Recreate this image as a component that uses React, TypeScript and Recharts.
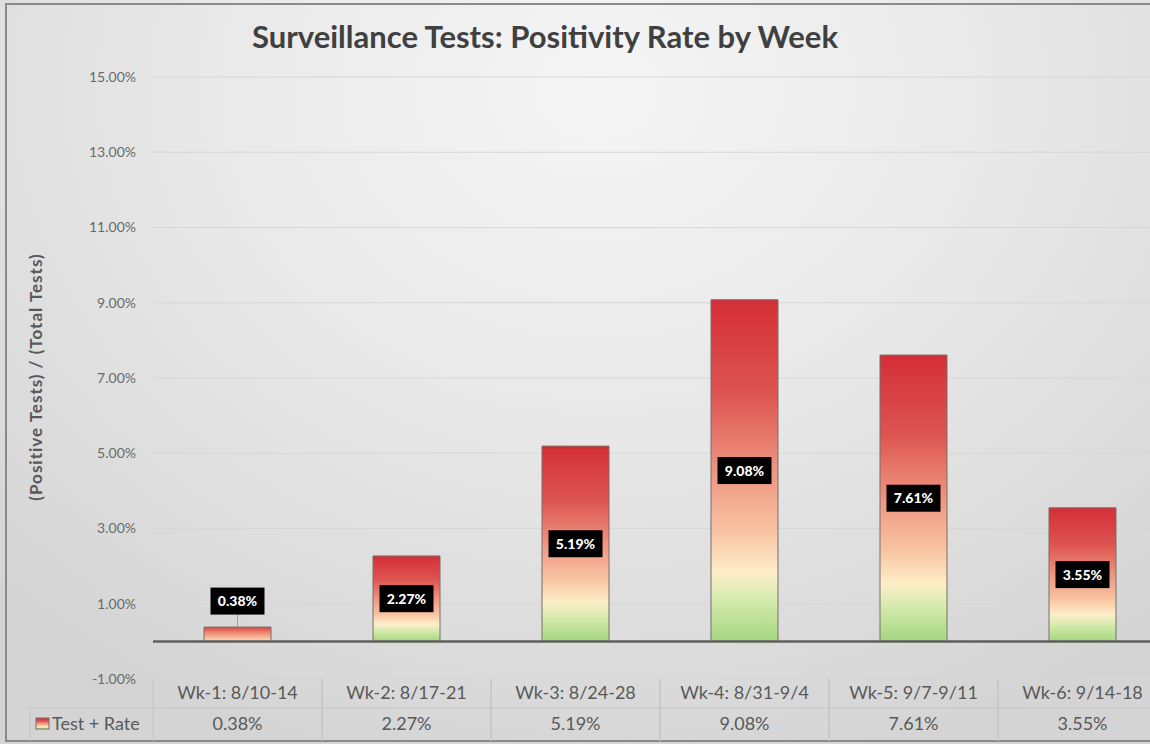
import React from 'react'
import { BarChart, Bar, XAxis, YAxis, CartesianGrid, ReferenceLine, LabelList, Cell } from 'recharts'

const weeks = ['Wk-1: 8/10-14', 'Wk-2: 8/17-21', 'Wk-3: 8/24-28', 'Wk-4: 8/31-9/4', 'Wk-5: 9/7-9/11', 'Wk-6: 9/14-18']
const rates = [0.38, 2.27, 5.19, 9.08, 7.61, 3.55]
const yTicks = [-1, 1, 3, 5, 7, 9, 11, 13, 15]
const seriesName = 'Test + Rate'

const data = weeks.map((week, i) => ({ week, rate: rates[i] }))

const pct = (v: number) => `${Number(v).toFixed(2)}%`
const FONT = 'Lato, "Open Sans", sans-serif'
const TABLE_LINE = '#c4c4c4'

// table under the plot, drawn as the x axis ticks
const TableTick = (props: any) => {
  const { x, y, payload, index } = props
  const half = payload.offset || 84.5
  const left = x - half
  const right = x + half
  const rowH = 29
  return (
    <g>
      <line x1={left} y1={y} x2={left} y2={y + 62} stroke={TABLE_LINE} />
      <line x1={right} y1={y} x2={right} y2={y + 62} stroke={TABLE_LINE} />
      <line x1={left} y1={y + rowH} x2={right} y2={y + rowH} stroke={TABLE_LINE} />
      <text x={x} y={y + 20} textAnchor="middle" fontFamily={FONT} fontSize={18} fill="#595959">
        {payload.value}
      </text>
      <text x={x} y={y + 51} textAnchor="middle" fontFamily={FONT} fontSize={18} fill="#595959">
        {pct(rates[index])}
      </text>
      {index === 0 && (
        <g>
          <line x1={30} y1={y + rowH} x2={left} y2={y + rowH} stroke={TABLE_LINE} />
          <line x1={30} y1={y + rowH} x2={30} y2={y + 62} stroke={TABLE_LINE} />
          <rect x={36} y={y + 39} width={13} height={11} fill="url(#barFill)" stroke="#7a6f66" />
          <text x={52} y={y + 51} fontFamily={FONT} fontSize={18} fill="#595959">
            {seriesName}
          </text>
        </g>
      )}
    </g>
  )
}

const BoxLabel = (props: any) => {
  const { x, y, width, height, value } = props
  const cx = x + width / 2
  const small = height < 40
  const cy = small ? y - 26 : y + height / 2
  return (
    <g>
      {small && <line x1={cx} y1={cy + 13.5} x2={cx} y2={y} stroke="#a0a0a0" />}
      <rect x={cx - 27} y={cy - 13.5} width={54} height={27} fill="#000" />
      <text x={cx} y={cy} dy="0.36em" textAnchor="middle" fill="#fff" fontFamily={FONT} fontWeight="900" fontSize={14}>
        {pct(value)}
      </text>
    </g>
  )
}

export default function App() {
  return (
    <div
      style={{
        position: 'absolute',
        left: 0,
        top: 0,
        width: 1150,
        height: 744,
        overflow: 'hidden',
        background: 'radial-gradient(ellipse 75% 95% at 52% 12%, #f5f5f5 0%, #e9e9e9 45%, #d4d4d4 100%)',
      }}
    >
      <div
        style={{
          position: 'absolute',
          left: 5,
          top: 3,
          width: 1300,
          height: 735,
          border: '2px solid #8a8a8a',
        }}
      />
      <div
        style={{
          position: 'absolute',
          left: 0,
          top: 17,
          width: 1090,
          textAlign: 'center',
          fontFamily: FONT,
          fontWeight: 'bold',
          fontSize: 31,
          lineHeight: '38px',
          color: '#404040',
        }}
      >
        Surveillance Tests: Positivity Rate by Week
      </div>
      <div
        style={{
          position: 'absolute',
          left: 35,
          top: 377,
          transform: 'translate(-50%, -50%) rotate(-90deg)',
          whiteSpace: 'nowrap',
          fontFamily: FONT,
          fontWeight: 'bold',
          fontSize: 17,
          letterSpacing: 1,
          color: '#595959',
        }}
      >
        (Positive Tests) / (Total Tests)
      </div>
      <div style={{ position: 'absolute', left: 0, top: 0 }}>
        <BarChart width={1167} height={744} data={data} margin={{ top: 77, right: 0, bottom: 0, left: 0 }}>
          <defs>
            <linearGradient id="barFill" x1="0" y1="0" x2="0" y2="1">
              <stop offset="0%" stopColor="#d42e36" />
              <stop offset="28%" stopColor="#dd5552" />
              <stop offset="50%" stopColor="#ef9580" />
              <stop offset="68%" stopColor="#f8c3a2" />
              <stop offset="80%" stopColor="#fdeec8" />
              <stop offset="87%" stopColor="#d9ebb0" />
              <stop offset="100%" stopColor="#a3d77f" />
            </linearGradient>
            <linearGradient id="barFillShort" x1="0" y1="0" x2="0" y2="1">
              <stop offset="0%" stopColor="#d84a46" />
              <stop offset="60%" stopColor="#f4a888" />
              <stop offset="100%" stopColor="#fbd9bc" />
            </linearGradient>
          </defs>
          <CartesianGrid vertical={false} stroke="#d6d6d6" />
          <XAxis
            dataKey="week"
            height={65}
            axisLine={false}
            tickLine={false}
            tickSize={0}
            tickMargin={0}
            interval={0}
            tick={<TableTick />}
          />
          <YAxis
            width={153}
            domain={[-1, 15]}
            ticks={yTicks}
            tickFormatter={pct}
            axisLine={false}
            tickLine={false}
            tickSize={0}
            tickMargin={17}
            tick={{ fontFamily: FONT, fontSize: 14, fill: '#6a6a6a' }}
          />
          <ReferenceLine y={0} stroke="#5f5f5f" strokeWidth={2.5} />
          <Bar dataKey="rate" barSize={67} stroke="#7a6f66" strokeWidth={1} isAnimationActive={false}>
            {rates.map((r, i) => (
              <Cell key={i} fill={r < 1 ? 'url(#barFillShort)' : 'url(#barFill)'} />
            ))}
            <LabelList dataKey="rate" content={<BoxLabel />} />
          </Bar>
        </BarChart>
      </div>
    </div>
  )
}
